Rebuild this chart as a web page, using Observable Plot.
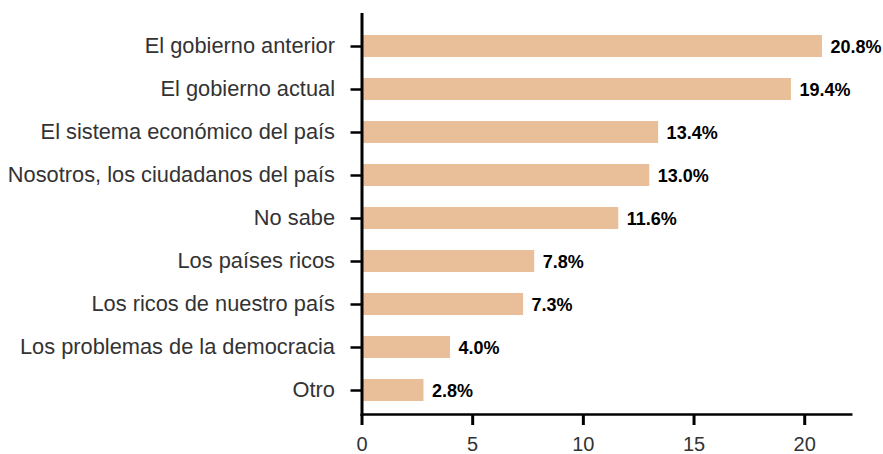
<!DOCTYPE html>
<html>
<head>
<meta charset="utf-8">
<script src="https://cdn.jsdelivr.net/npm/d3@7"></script>
<script src="https://cdn.jsdelivr.net/npm/@observablehq/plot@0.6"></script>
<style>
  html, body { margin: 0; padding: 0; background: #fff; }
  #chart svg { display: block; }
</style>
</head>
<body>
<div id="chart"></div>
<script>
const categories = [
  "El gobierno anterior",
  "El gobierno actual",
  "El sistema económico del país",
  "Nosotros, los ciudadanos del país",
  "No sabe",
  "Los países ricos",
  "Los ricos de nuestro país",
  "Los problemas de la democracia",
  "Otro"
];
const values = [20.8, 19.4, 13.4, 13.0, 11.6, 7.8, 7.3, 4.0, 2.8];
const xTicks = [0, 5, 10, 15, 20];

const data = categories.map((c, i) => ({category: c, value: values[i]}));

const chart = Plot.plot({
  width: 883,
  height: 454,
  marginLeft: 361.5,
  marginRight: 32.3,
  marginTop: 14,
  marginBottom: 40,
  style: {fontFamily: "'Liberation Sans', Arial, sans-serif", background: "#fff"},
  x: {domain: [0, 22.1]},
  y: {domain: categories, range: [22.25, 413.75], paddingInner: 0.5, paddingOuter: 0.25},
  marks: [
    Plot.barX(data, {x: "value", y: "category", fill: "#e8bf98"}),
    Plot.text(data, {
      x: "value", y: "category",
      text: d => d.value.toFixed(1) + "%",
      dx: 8, dy: 1, textAnchor: "start",
      fontWeight: "bold", fontSize: 18, fill: "#000"
    }),
    Plot.axisY({tickSize: 11, tickPadding: 16, fontSize: 21.8, fill: "#333", stroke: "#000", strokeWidth: 2.5, label: null}),
    Plot.axisX({ticks: xTicks, tickSize: 11, tickPadding: 11, fontSize: 20, fill: "#333", stroke: "#000", strokeWidth: 3, label: null}),
    Plot.frame({anchor: "left", stroke: "#000", strokeWidth: 3}),
    Plot.frame({anchor: "bottom", stroke: "#000", strokeWidth: 2.5})
  ]
});
document.getElementById("chart").appendChild(chart);
</script>
</body>
</html>
